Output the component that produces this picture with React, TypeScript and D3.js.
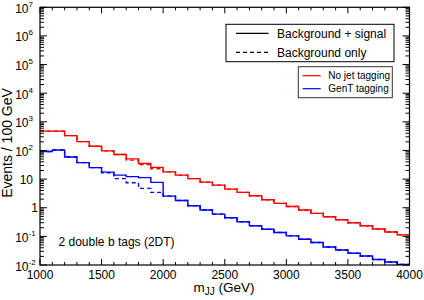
import React from "react";
import * as d3 from "d3";

// lower edges of the 100 GeV bins
const binLow = [
  1000, 1100, 1200, 1300, 1400, 1500, 1600, 1700, 1800, 1900,
  2000, 2100, 2200, 2300, 2400, 2500, 2600, 2700, 2800, 2900,
  3000, 3100, 3200, 3300, 3400, 3500, 3600, 3700, 3800, 3900,
];
const binHigh = 4000;

// No jet tagging (red)
const noTagSigBkg = [
  472, 472, 329, 203, 141, 97, 72.6, 51, 35.2, 25.6,
  17.9, 13.8, 10.4, 7.85, 6.17, 4.48, 3.43, 2.61, 1.9, 1.42,
  1.1, 0.83, 0.636, 0.484, 0.38, 0.299, 0.235, 0.18, 0.142, 0.113,
];
const noTagBkg = [
  472, 472, 329, 203, 141, 97, 72.6, 45.9, 32, 22.9,
  17.9, 13.8, 10.4, 7.85, 6.17, 4.48, 3.43, 2.61, 1.9, 1.42,
  1.1, 0.83, 0.636, 0.484, 0.38, 0.299, 0.235, 0.18, 0.142, 0.113,
];

// GenT tagging (blue)
const genTSigBkg = [
  92.5, 104, 59.4, 37.6, 25.2, 17.5, 13.8, 12.2, 11.3, 7.67,
  2.55, 1.78, 1.17, 0.83, 0.6, 0.446, 0.324, 0.235, 0.177, 0.136,
  0.104, 0.0794, 0.0609, 0.0425, 0.0334, 0.0256, 0.0206, 0.0156, 0.0127, 0.0105,
];
const genTBkg = [
  92.5, 104, 59.4, 37.6, 25.2, 16.6, 10.4, 7.42, 4.73, 3.43,
  2.55, 1.78, 1.17, 0.83, 0.6, 0.446, 0.324, 0.235, 0.177, 0.136,
  0.104, 0.0794, 0.0609, 0.0425, 0.0334, 0.0256, 0.0206, 0.0156, 0.0127, 0.0105,
];

const xMajor = [1000, 1500, 2000, 2500, 3000, 3500, 4000];
const yExponents = [-2, -1, 0, 1, 2, 3, 4, 5, 6, 7];

const W = 424;
const H = 300;
const plot = { left: 40, right: 409.5, top: 7.3, bottom: 265 };
const FONT = "'Liberation Sans', Arial, Helvetica, sans-serif";
const RED = "#ff0000";
const BLUE = "#0000ff";

const App: React.FC = () => {
  const x = d3.scaleLinear().domain([1000, 4000]).range([plot.left, plot.right]);
  const y = d3.scaleLog().domain([1e-2, 1e7]).range([plot.bottom, plot.top]);

  const stepLine = d3
    .line<[number, number]>()
    .x((d) => x(d[0]))
    .y((d) => y(d[1]))
    .curve(d3.curveStepAfter);

  const histPath = (vals: number[]) => {
    const pts: [number, number][] = binLow.map((b, i) => [b, vals[i]]);
    pts.push([binHigh, vals[vals.length - 1]]);
    return stepLine(pts) || "";
  };

  // minor ticks
  const xMinor = d3.range(1000, 4001, 100).filter((v) => v % 500 !== 0);
  const yMinor: number[] = [];
  yExponents.slice(0, -1).forEach((e) => {
    for (let k = 2; k <= 9; k++) yMinor.push(k * Math.pow(10, e));
  });

  const tickColor = "#000";

  return (
    <div style={{ position: "absolute", left: 0, top: 0 }}>
      <svg width={W} height={H} style={{ display: "block", background: "#fff" }} fontFamily={FONT}>
        <defs>
          <clipPath id="plotClip">
            <rect x={plot.left} y={plot.top} width={plot.right - plot.left} height={plot.bottom - plot.top} />
          </clipPath>
        </defs>

        {/* histograms */}
        <g clipPath="url(#plotClip)" fill="none" strokeWidth={1.4}>
          <path d={histPath(noTagBkg)} stroke={RED} strokeDasharray="4,3" />
          <path d={histPath(noTagSigBkg)} stroke={RED} />
          <path d={histPath(genTBkg)} stroke={BLUE} strokeDasharray="4,3" />
          <path d={histPath(genTSigBkg)} stroke={BLUE} />
        </g>

        {/* ticks on all four sides, pointing in */}
        <g stroke={tickColor} strokeWidth={1}>
          {xMajor.map((v) => (
            <g key={"xM" + v}>
              <line x1={x(v)} x2={x(v)} y1={plot.bottom} y2={plot.bottom - 6} />
              <line x1={x(v)} x2={x(v)} y1={plot.top} y2={plot.top + 6} />
            </g>
          ))}
          {xMinor.map((v) => (
            <g key={"xm" + v}>
              <line x1={x(v)} x2={x(v)} y1={plot.bottom} y2={plot.bottom - 3} />
              <line x1={x(v)} x2={x(v)} y1={plot.top} y2={plot.top + 3} />
            </g>
          ))}
          {yExponents.map((e) => (
            <g key={"yM" + e}>
              <line x1={plot.left} x2={plot.left + 7} y1={y(Math.pow(10, e))} y2={y(Math.pow(10, e))} />
              <line x1={plot.right} x2={plot.right - 7} y1={y(Math.pow(10, e))} y2={y(Math.pow(10, e))} />
            </g>
          ))}
          {yMinor.map((v, i) => (
            <g key={"ym" + i}>
              <line x1={plot.left} x2={plot.left + 4} y1={y(v)} y2={y(v)} />
              <line x1={plot.right} x2={plot.right - 4} y1={y(v)} y2={y(v)} />
            </g>
          ))}
        </g>

        {/* frame */}
        <rect
          x={plot.left}
          y={plot.top}
          width={plot.right - plot.left}
          height={plot.bottom - plot.top}
          fill="none"
          stroke="#000"
          strokeWidth={1.2}
        />

        {/* x tick labels */}
        {xMajor.map((v) => (
          <text key={"xl" + v} x={x(v)} y={278.5} fontSize={12} textAnchor="middle" fill="#000">
            {v}
          </text>
        ))}

        {/* y tick labels */}
        {yExponents.map((e) => {
          const ty = y(Math.pow(10, e));
          if (e === 0)
            return (
              <text key={"yl" + e} x={38} y={ty + 4.5} fontSize={12} textAnchor="end">
                1
              </text>
            );
          if (e === 1)
            return (
              <text key={"yl" + e} x={33} y={ty + 4.5} fontSize={12} textAnchor="end">
                10
              </text>
            );
          return (
            <g key={"yl" + e}>
              <text x={28.5} y={ty + 5.5} fontSize={12} textAnchor="end">
                10
              </text>
              <text x={28.5} y={ty - 0.5} fontSize={8}>
                {e}
              </text>
            </g>
          );
        })}

        {/* axis titles */}
        <text
          transform={`translate(12, 143) rotate(-90)`}
          fontSize={14}
          textAnchor="middle"
        >
          Events / 100 GeV
        </text>
        <text x={224} y={292} fontSize={13.5} textAnchor="middle">
          m<tspan fontSize={10} dy={2.5}>JJ</tspan>
          <tspan dy={-2.5}> (GeV)</tspan>
        </text>

        {/* annotation */}
        <text x={58.5} y={246} fontSize={12}>
          2 double b tags (2DT)
        </text>

        {/* legend: line styles */}
        <g>
          <rect x={226} y={24.3} width={168} height={37.4} fill="#fff" stroke="#000" strokeWidth={1} />
          <line x1={236} x2={268.5} y1={33.3} y2={33.3} stroke="#000" strokeWidth={1.2} />
          <text x={277} y={37.5} fontSize={12}>
            Background + signal
          </text>
          <line x1={236} x2={268.5} y1={52.3} y2={52.3} stroke="#000" strokeWidth={1.2} strokeDasharray="4,3" />
          <text x={277} y={56.5} fontSize={12}>
            Background only
          </text>
        </g>

        {/* legend: taggers */}
        <g>
          <rect x={298.3} y={66.7} width={94} height={31} fill="#fff" stroke="#333" strokeWidth={1} />
          <line x1={302.7} x2={320.7} y1={75.7} y2={75.7} stroke={RED} strokeWidth={1.2} />
          <text x={328.3} y={79.2} fontSize={10}>
            No jet tagging
          </text>
          <line x1={302.7} x2={320.7} y1={88.7} y2={88.7} stroke={BLUE} strokeWidth={1.2} />
          <text x={328.3} y={92.2} fontSize={10}>
            GenT tagging
          </text>
        </g>
      </svg>
    </div>
  );
};

export default App;
